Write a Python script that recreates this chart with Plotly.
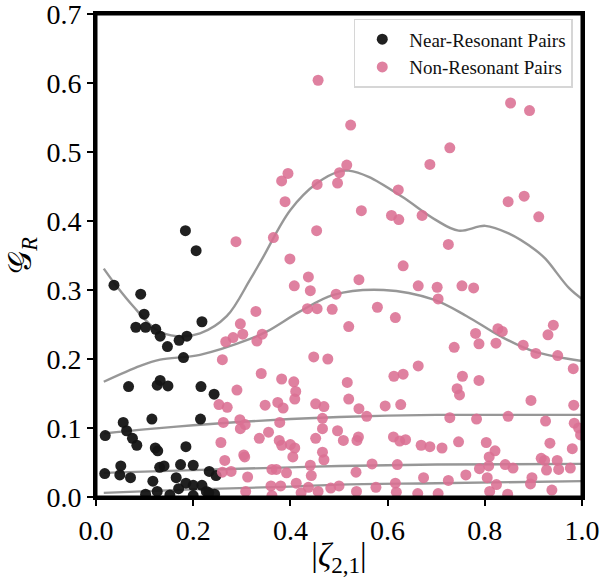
import plotly.graph_objects as go

# ---------------- data ----------------
near_x = [0.184, 0.206, 0.037, 0.092, 0.099, 0.082, 0.102, 0.123, 0.132, 0.147, 0.171, 0.187, 0.180, 0.218,
          0.067, 0.132, 0.126, 0.148, 0.216, 0.243, 0.115, 0.215, 0.056, 0.019, 0.063, 0.075, 0.084, 0.122,
          0.127, 0.185, 0.018, 0.051, 0.049, 0.071, 0.117, 0.131, 0.140, 0.174, 0.200, 0.165, 0.185, 0.200,
          0.218, 0.233, 0.247, 0.170, 0.227, 0.244, 0.126, 0.102, 0.152, 0.200, 0.232]
near_y = [0.386, 0.357, 0.307, 0.294, 0.265, 0.246, 0.246, 0.243, 0.233, 0.218, 0.227, 0.233, 0.202, 0.254,
          0.160, 0.169, 0.162, 0.161, 0.160, 0.149, 0.113, 0.113, 0.108, 0.089, 0.096, 0.085, 0.075, 0.071,
          0.067, 0.073, 0.034, 0.045, 0.032, 0.028, 0.023, 0.043, 0.045, 0.047, 0.046, 0.028, 0.020, 0.017,
          0.017, 0.037, 0.031, 0.012, 0.008, 0.004, 0.008, 0.004, 0.003, 0.002, 0.006]

non_x = [0.457, 0.395, 0.382, 0.455, 0.501, 0.497, 0.516, 0.389, 0.454, 0.365, 0.288, 0.399,
         0.524, 0.853, 0.892, 0.728, 0.687, 0.622, 0.546, 0.608, 0.623, 0.671, 0.725, 0.848, 0.881, 0.911,
         0.437, 0.408, 0.441, 0.329, 0.435, 0.455, 0.486, 0.494, 0.297, 0.302, 0.282, 0.267, 0.331, 0.342,
         0.260, 0.448, 0.477, 0.340, 0.382, 0.407, 0.411, 0.409, 0.290, 0.253, 0.270, 0.348, 0.374, 0.385,
         0.452, 0.469, 0.262, 0.296, 0.307, 0.297, 0.378, 0.466, 0.466, 0.497, 0.355, 0.336, 0.257, 0.377,
         0.382, 0.400, 0.409, 0.452, 0.405, 0.466, 0.469, 0.304, 0.306, 0.265, 0.260, 0.278, 0.362, 0.371,
         0.392, 0.312, 0.441, 0.443, 0.308, 0.360, 0.380, 0.362, 0.412, 0.422, 0.437, 0.457, 0.483, 0.500,
         0.632, 0.541, 0.663, 0.702, 0.753, 0.777, 0.704, 0.579, 0.616, 0.520, 0.781, 0.788, 0.737, 0.823,
         0.827, 0.836, 0.879, 0.905, 0.930, 0.941, 0.950, 0.982, 0.663, 0.613, 0.632, 0.754, 0.788, 0.743,
         0.748, 0.517, 0.520, 0.541, 0.557, 0.595, 0.627, 0.895, 0.983, 0.728, 0.783, 0.848, 0.925, 0.984,
         0.993, 0.997, 0.509, 0.537, 0.540, 0.612, 0.625, 0.637, 0.669, 0.687, 0.712, 0.746, 0.803, 0.821,
         0.809, 0.934, 0.980, 0.916, 0.923, 0.949, 0.952, 0.927, 0.976, 0.568, 0.620, 0.535, 0.674, 0.725,
         0.761, 0.789, 0.808, 0.805, 0.842, 0.858, 0.824, 0.897, 0.894, 0.616, 0.576, 0.536, 0.618, 0.662,
         0.704, 0.810, 0.847, 0.938]
non_y = [0.604, 0.469, 0.458, 0.453, 0.470, 0.455, 0.481, 0.428, 0.386, 0.376, 0.370, 0.345,
         0.539, 0.571, 0.560, 0.506, 0.482, 0.445, 0.415, 0.408, 0.402, 0.408, 0.366, 0.428, 0.436, 0.406,
         0.319, 0.306, 0.299, 0.269, 0.273, 0.273, 0.272, 0.294, 0.251, 0.236, 0.231, 0.225, 0.226, 0.236,
         0.199, 0.203, 0.200, 0.179, 0.171, 0.167, 0.153, 0.142, 0.155, 0.134, 0.130, 0.133, 0.137, 0.129,
         0.135, 0.131, 0.108, 0.112, 0.105, 0.099, 0.108, 0.114, 0.099, 0.096, 0.094, 0.085, 0.079, 0.082,
         0.075, 0.076, 0.071, 0.085, 0.058, 0.065, 0.054, 0.061, 0.058, 0.053, 0.036, 0.037, 0.040, 0.040,
         0.035, 0.029, 0.046, 0.031, 0.008, 0.016, 0.016, 0.002, 0.020, 0.006, 0.014, 0.008, 0.013, 0.016,
         0.335, 0.315, 0.306, 0.304, 0.306, 0.303, 0.287, 0.275, 0.260, 0.247, 0.237, 0.222, 0.217, 0.223,
         0.244, 0.240, 0.220, 0.208, 0.235, 0.249, 0.205, 0.186, 0.190, 0.175, 0.178, 0.175, 0.169, 0.157,
         0.148, 0.166, 0.142, 0.128, 0.117, 0.132, 0.134, 0.140, 0.133, 0.115, 0.113, 0.117, 0.110, 0.107,
         0.100, 0.090, 0.082, 0.082, 0.087, 0.087, 0.081, 0.083, 0.075, 0.073, 0.071, 0.080, 0.079, 0.067,
         0.058, 0.078, 0.070, 0.056, 0.053, 0.053, 0.040, 0.039, 0.042, 0.048, 0.047, 0.036, 0.028, 0.024,
         0.032, 0.041, 0.045, 0.028, 0.047, 0.042, 0.018, 0.028, 0.019, 0.020, 0.014, 0.008, 0.007, 0.005,
         0.005, 0.008, 0.004, 0.010]

# quantile-like trend curves
c1_x = [0.016, 0.043, 0.077, 0.125, 0.166, 0.214, 0.269, 0.317, 0.341, 0.400, 0.455, 0.501, 0.520, 0.561,
        0.630, 0.698, 0.746, 0.801, 0.849, 0.904, 0.925, 0.973, 1.0]
c1_y = [0.331, 0.305, 0.276, 0.242, 0.233, 0.237, 0.262, 0.315, 0.344, 0.416, 0.455, 0.472, 0.473, 0.464,
        0.435, 0.402, 0.386, 0.393, 0.382, 0.358, 0.345, 0.303, 0.287]
c2_x = [0.016, 0.091, 0.132, 0.214, 0.317, 0.352, 0.420, 0.489, 0.592, 0.695, 0.763, 0.832, 0.901, 1.0]
c2_y = [0.167, 0.190, 0.199, 0.206, 0.229, 0.240, 0.269, 0.293, 0.300, 0.286, 0.262, 0.233, 0.211, 0.197]
c3_x = [0.016, 0.1, 0.2, 0.3, 0.4, 0.5, 0.6, 0.7, 0.8, 0.9, 1.0]
c3_y = [0.092, 0.098, 0.104, 0.109, 0.113, 0.116, 0.118, 0.119, 0.119, 0.119, 0.119]
c4_x = [0.016, 0.2, 0.4, 0.5, 0.7, 1.0]
c4_y = [0.035, 0.039, 0.043, 0.045, 0.047, 0.048]
c5_x = [0.016, 0.2, 0.4, 0.5, 0.7, 1.0]
c5_y = [0.006, 0.011, 0.015, 0.018, 0.020, 0.023]

x_ticks = [0.0, 0.2, 0.4, 0.6, 0.8, 1.0]
y_ticks = [0.0, 0.1, 0.2, 0.3, 0.4, 0.5, 0.6, 0.7]

FONT = "Liberation Serif"

fig = go.Figure()

for cx, cy in [(c1_x, c1_y), (c2_x, c2_y), (c3_x, c3_y), (c4_x, c4_y), (c5_x, c5_y)]:
    fig.add_trace(go.Scatter(x=cx, y=cy, mode="lines", showlegend=False, hoverinfo="skip",
                             line=dict(color="rgba(140,140,140,0.9)", width=2.4, shape="spline", smoothing=1.0)))

fig.add_trace(go.Scatter(x=near_x, y=near_y, mode="markers", name="Near-Resonant Pairs",
                         marker=dict(color="#141414", size=11, opacity=0.95, line=dict(width=0))))
fig.add_trace(go.Scatter(x=non_x, y=non_y, mode="markers", name="Non-Resonant Pairs",
                         marker=dict(color="#db7093", size=11, opacity=0.88, line=dict(width=0))))

fig.update_layout(
    width=600, height=578,
    margin=dict(l=96, r=18, t=14, b=81, autoexpand=False),
    paper_bgcolor="white", plot_bgcolor="white",
    font=dict(family=FONT, color="black"),
    legend=dict(x=0.981, y=0.99, xanchor="right", yanchor="top", itemwidth=44,
                bgcolor="rgba(255,255,255,0.85)", bordercolor="#d6d6d6", borderwidth=1.5,
                font=dict(family=FONT, size=19, color="#111")),
    shapes=[dict(type="rect", xref="paper", yref="paper", x0=0, x1=1, y0=0, y1=1,
                 line=dict(color="black", width=3), layer="above")],
)

fig.update_xaxes(range=[0, 1], tickvals=x_ticks, ticktext=[f"{v:.1f}" for v in x_ticks],
                 automargin=False, ticklabeloverflow="allow",
                 showgrid=False, zeroline=False, showline=True, linecolor="black", linewidth=3,
                 mirror=True, ticks="outside", ticklen=6, tickwidth=1.5, tickcolor="black",
                 tickfont=dict(family=FONT, size=28),
                 title=dict(text="|<i>ζ</i><sub>2,1</sub>|", font=dict(family=FONT, size=33), standoff=4))
fig.update_yaxes(range=[0, 0.7], tickvals=y_ticks, ticktext=[f"{v:.1f}" for v in y_ticks],
                 automargin=False, ticklabeloverflow="allow",
                 showgrid=False, zeroline=False, showline=True, linecolor="black", linewidth=3,
                 mirror=True, ticks="outside", ticklen=6, tickwidth=1.5, tickcolor="black",
                 tickfont=dict(family=FONT, size=28),
                 title=dict(text="𝒢<sub><i>R</i></sub>", font=dict(family=FONT, size=32), standoff=6))

fig.write_html("out.html")
